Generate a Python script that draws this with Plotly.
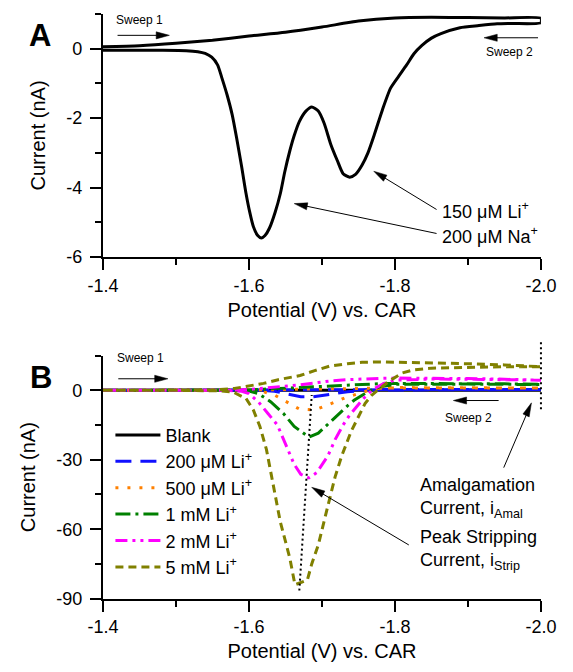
import plotly.graph_objects as go

W, H = 573, 672
FONT = "Liberation Sans, Arial, sans-serif"

# ---------------- Panel A data (one CV loop) ----------------
A_sweep1_x = [-1.4, -1.45, -1.5, -1.55, -1.6, -1.65, -1.7, -1.75, -1.8, -1.85, -1.9, -1.95, -2.0]
A_sweep1_y = [0.05, 0.08, 0.15, 0.24, 0.36, 0.47, 0.62, 0.79, 0.88, 0.90, 0.89, 0.88, 0.87]

A_sweep2_x = [-2.0, -1.96, -1.94, -1.915, -1.889, -1.863, -1.85, -1.837, -1.826, -1.816, -1.805,
              -1.794, -1.783, -1.772, -1.763, -1.755, -1.746, -1.738, -1.729, -1.721, -1.712,
              -1.703, -1.695, -1.686, -1.678, -1.669, -1.662, -1.656, -1.649, -1.643, -1.636,
              -1.628, -1.622, -1.617, -1.612, -1.606, -1.601, -1.596, -1.590, -1.583, -1.577,
              -1.570, -1.563, -1.557, -1.549, -1.540, -1.53, -1.514, -1.48, -1.44, -1.4]
A_sweep2_y = [0.74, 0.72, 0.71, 0.66, 0.60, 0.43, 0.30, 0.09, -0.15, -0.47, -0.80,
              -1.14, -1.75, -2.46, -3.00, -3.35, -3.62, -3.70, -3.60, -3.22, -2.75,
              -2.15, -1.80, -1.68, -1.80, -2.10, -2.50, -2.94, -3.55, -4.17, -4.70,
              -5.17, -5.38, -5.45, -5.38, -5.12, -4.70, -4.17, -3.40, -2.56, -1.90,
              -1.33, -0.85, -0.47, -0.25, -0.14, -0.09, -0.06, -0.05, -0.05, -0.05]

# ---------------- Panel B data ----------------
B_names = ["Blank", "200 μM Li<sup>+</sup>", "500 μM Li<sup>+</sup>", "1 mM Li<sup>+</sup>",
           "2 mM Li<sup>+</sup>", "5 mM Li<sup>+</sup>"]

# sweep 1 (forward, -1.4 -> -2.0) on a shared potential grid
B_sweep1_x = [-1.4, -1.5, -1.55, -1.58, -1.6, -1.62, -1.64, -1.67, -1.69, -1.71, -1.735,
              -1.755, -1.78, -1.8, -1.85, -1.9, -1.95, -2.0]
blank_s1 = [0, 0, 0, 0, 0, 0, 0, 0, 0, 0, 0, 0, 0, 0, 0, 0, 0, 0]
li200_s1 = [0, 0, 0, 0, 0, 0.1, 0.1, 0.2, 0.2, 0.3, 0.3, 0.3, 0.4, 0.4, 0.4, 0.4, 0.4, 0.4]
li500_s1 = [0, 0, 0, 0, 0.1, 0.2, 0.3, 0.5, 0.6, 0.7, 0.8, 0.9, 0.9, 1.0, 1.0, 1.0, 1.0, 1.0]
li1m_s1 = [0, 0, 0, 0, 0.2, 0.5, 0.8, 1.3, 1.7, 2.1, 2.5, 2.7, 2.9, 3.0, 3.0, 2.9, 2.8, 2.6]
li2m_s1 = [0, 0, 0, 0.1, 0.4, 0.9, 1.5, 2.4, 3.2, 4.0, 4.6, 5.0, 5.2, 5.3, 5.3, 5.1, 4.8, 4.5]
li5m_s1 = [0, 0, 0.2, 0.8, 1.8, 3.0, 4.6, 6.4, 8.5, 10.4, 11.5, 12.1, 12.3, 12.2, 11.9, 11.5, 11.0, 10.5]

# sweep 2 (reverse, -2.0 -> -1.4)
blank_s2_x = [-2.0, -1.8, -1.6, -1.4]
blank_s2_y = [0, 0, 0, 0]

li200_s2_x = [-2.0, -1.9, -1.8, -1.76, -1.735, -1.72, -1.706, -1.688, -1.671, -1.652, -1.635, -1.62, -1.5, -1.4]
li200_s2_y = [0.4, 0.4, 0.4, 0.1, -0.6, -1.3, -2.1, -2.8, -2.8, -1.4, -0.4, 0, 0, 0]

li500_s2_x = [-2.0, -1.9, -1.8, -1.77, -1.75, -1.731, -1.710, -1.690, -1.669, -1.650, -1.635, -1.62, -1.6, -1.5, -1.4]
li500_s2_y = [1.0, 1.1, 1.2, 0.6, -1.5, -3.3, -6.1, -8.5, -8.1, -4.7, -2.0, -0.6, 0, 0, 0]

li1m_s2_x = [-2.0, -1.9, -1.85, -1.8, -1.78, -1.77, -1.759, -1.744, -1.736, -1.721, -1.710, -1.695,
             -1.682, -1.662, -1.647, -1.630, -1.613, -1.60, -1.58, -1.5, -1.4]
li1m_s2_y = [2.5, 2.7, 2.8, 2.6, 1.6, 0.4, -1.4, -4.3, -6.4, -10.7, -14.2, -18.5,
             -20.2, -15.6, -9.9, -5.0, -1.4, -0.3, 0, 0, 0]

li2m_s2_x = [-2.0, -1.95, -1.9, -1.85, -1.8, -1.785, -1.77, -1.757, -1.749, -1.738, -1.729, -1.718,
             -1.708, -1.693, -1.682, -1.671, -1.662, -1.652, -1.639, -1.626, -1.613, -1.60, -1.59,
             -1.57, -1.5, -1.4]
li2m_s2_y = [4.4, 4.6, 4.8, 4.9, 4.4, 3.0, 0.5, -3.5, -6.4, -10.7, -14.9, -21.3,
             -28.4, -35.5, -37.8, -36.3, -32.0, -24.9, -15.0, -10.0, -5.0, -1.4, -0.4,
             0, 0, 0]

li5m_s2_x = [-2.0, -1.95, -1.9, -1.85, -1.825, -1.81, -1.792, -1.779, -1.768, -1.759, -1.751, -1.740,
             -1.727, -1.718, -1.706, -1.695, -1.686, -1.68, -1.663, -1.656, -1.643, -1.630, -1.624,
             -1.615, -1.606, -1.596, -1.578, -1.56, -1.5, -1.4]
li5m_s2_y = [10.2, 10.2, 10.0, 9.6, 8.8, 7.5, 4.0, 0.7, -2.1, -5.7, -10.7, -17.7,
             -28.4, -37.4, -52.6, -66.8, -75.0, -82.0, -84.0, -72.5, -56.9, -35.5, -25.6,
             -15.6, -8.5, -3.5, -0.7, -0.2, 0, 0]

B_sweep1_y = [blank_s1, li200_s1, li500_s1, li1m_s1, li2m_s1, li5m_s1]
B_sweep2_x = [blank_s2_x, li200_s2_x, li500_s2_x, li1m_s2_x, li2m_s2_x, li5m_s2_x]
B_sweep2_y = [blank_s2_y, li200_s2_y, li500_s2_y, li1m_s2_y, li2m_s2_y, li5m_s2_y]

B_colors = ["#000000", "#1010FF", "#FF8000", "#008000", "#FF00FF", "#808000"]
B_dashes = ["solid", "16px,9px", "3px,9px", "15px,5px,3px,5px", "12px,5px,3px,5px,3px,5px", "8px,5px"]

# peak guide line (through stripping peaks)
peak_line_x = [-1.669, -1.686]
peak_line_y = [-86.5, -2.0]

# axis ticks
x_ticks = [-1.4, -1.6, -1.8, -2.0]
A_yticks = [0, -2, -4, -6]
B_yticks = [0, -30, -60, -90]

# ---------------- layout geometry ----------------
X_DOM = [92.1 / W, 556.0 / W]
A_YDOM = [1 - 261.0 / H, 1 - 14.0 / H]
B_YDOM = [1 - 607.7 / H, 1 - 361.0 / H]
X_RANGE = [-1.4, -2.0]
A_YRANGE = [-6, 1]
B_YRANGE = [-90, 15]


def to_px(x, y, panel):
    ydom, yr = (A_YDOM, A_YRANGE) if panel == "A" else (B_YDOM, B_YRANGE)
    fx = X_DOM[0] + (x - X_RANGE[0]) / (X_RANGE[1] - X_RANGE[0]) * (X_DOM[1] - X_DOM[0])
    fy = ydom[0] + (y - yr[0]) / (yr[1] - yr[0]) * (ydom[1] - ydom[0])
    return fx * W, (1 - fy) * H


def px_to_paper(px, py):
    return px / W, 1 - py / H


fig = go.Figure()

# Panel A
fig.add_trace(go.Scatter(
    x=A_sweep1_x + A_sweep2_x, y=A_sweep1_y + A_sweep2_y, mode="lines",
    line=dict(color="black", width=3, shape="spline", smoothing=0.6),
    xaxis="x", yaxis="y", showlegend=False, hoverinfo="skip"))

# Panel B
for name, s1, s2x, s2y, col, dash in zip(B_names, B_sweep1_y, B_sweep2_x, B_sweep2_y, B_colors, B_dashes):
    fig.add_trace(go.Scatter(
        x=B_sweep1_x + s2x, y=s1 + s2y, mode="lines", name=name,
        line=dict(color=col, width=3, dash=dash),
        xaxis="x2", yaxis="y2"))

fig.add_trace(go.Scatter(
    x=peak_line_x, y=peak_line_y, mode="lines",
    line=dict(color="black", width=2, dash="2px,3px"),
    xaxis="x2", yaxis="y2", showlegend=False, hoverinfo="skip"))

shapes = []
annotations = []


def arrow(panel, tail, head, lw=1.0, hl=14, hw=3.6):
    tx, ty = to_px(tail[0], tail[1], panel)
    hx, hy = to_px(head[0], head[1], panel)
    dx, dy = hx - tx, hy - ty
    L = (dx * dx + dy * dy) ** 0.5
    ux, uy = dx / L, dy / L
    bx, by = hx - ux * hl, hy - uy * hl
    nx, ny = -uy, ux
    p0 = px_to_paper(tx, ty)
    p1 = px_to_paper(bx + ux * 1, by + uy * 1)
    shapes.append(dict(type="line", xref="paper", yref="paper", x0=p0[0], y0=p0[1],
                       x1=p1[0], y1=p1[1], line=dict(color="black", width=lw)))
    pts = [(hx, hy), (bx + nx * hw, by + ny * hw), (bx - nx * hw, by - ny * hw)]
    pp = [px_to_paper(a, b) for a, b in pts]
    path = "M{},{} L{},{} L{},{} Z".format(pp[0][0], pp[0][1], pp[1][0], pp[1][1], pp[2][0], pp[2][1])
    shapes.append(dict(type="path", xref="paper", yref="paper", path=path,
                       fillcolor="black", line=dict(color="black", width=0.5)))


def text(panel, x, y, s, size=18, xanchor="left"):
    annotations.append(dict(
        x=x, y=y, xref="x" if panel == "A" else "x2", yref="y" if panel == "A" else "y2",
        text=s, showarrow=False, xanchor=xanchor, yanchor="middle", align="left",
        font=dict(family=FONT, size=size, color="black")))


# Panel A annotations
text("A", -1.450, 0.82, "Sweep 1", size=12, xanchor="center")
arrow("A", (-1.420, 0.38), (-1.491, 0.38))
text("A", -1.957, -0.09, "Sweep 2", size=12, xanchor="center")
arrow("A", (-1.996, 0.31), (-1.922, 0.31))
text("A", -1.862, -4.66, "150 μM Li<sup>+</sup>")
text("A", -1.862, -5.37, "200 μM Na<sup>+</sup>")
arrow("A", (-1.857, -4.63), (-1.771, -3.53))
arrow("A", (-1.857, -5.32), (-1.662, -4.46))

# Panel B annotations
text("B", -1.452, 13.9, "Sweep 1", size=12, xanchor="center")
arrow("B", (-1.421, 5.0), (-1.489, 5.0))
text("B", -1.901, -12.1, "Sweep 2", size=12, xanchor="center")
arrow("B", (-1.942, -4.4), (-1.880, -4.4))
text("B", -1.831, -46.6, "Amalgamation<br>Current, i<sub>Amal</sub>")
text("B", -1.831, -69.0, "Peak Stripping<br>Current, i<sub>Strip</sub>")
arrow("B", (-1.949, -33.4), (-1.987, -5.4))
arrow("B", (-1.819, -66.8), (-1.686, -41.9))

# vertical dotted line at end of sweep (extends above axis)
vx0, vy0 = to_px(-2.0, 20.8, "B")
vx1, vy1 = to_px(-2.0, -9.0, "B")
p0 = px_to_paper(vx0, vy0)
p1 = px_to_paper(vx1, vy1)
shapes.append(dict(type="line", xref="paper", yref="paper", x0=p0[0], y0=p0[1], x1=p1[0], y1=p1[1],
                   line=dict(color="black", width=2, dash="2px,3px")))

# panel letters
annotations.append(dict(x=25 / W, y=1 - 36 / H, xref="paper", yref="paper", text="<b>A</b>",
                        showarrow=False, xanchor="center", yanchor="middle",
                        font=dict(family=FONT, size=31, color="black")))
annotations.append(dict(x=26 / W, y=1 - 383 / H, xref="paper", yref="paper", text="<b>B</b>",
                        showarrow=False, xanchor="center", yanchor="middle",
                        font=dict(family=FONT, size=31, color="black")))

axis_common = dict(
    showline=True, linecolor="black", linewidth=2, mirror=False,
    ticks="outside", ticklen=11, tickwidth=2, tickcolor="black",
    showgrid=False, zeroline=False,
    tickfont=dict(family=FONT, size=18, color="black"),
)

xaxis_common = dict(axis_common, range=X_RANGE, tickvals=x_ticks,
                    ticktext=["-1.4", "-1.6", "-1.8", "-2.0"], domain=X_DOM,
                    minor=dict(dtick=0.1, tick0=-1.4, ticklen=6, tickwidth=2, tickcolor="black", ticks="outside"),
                    title=dict(text="Potential (V) vs. CAR", font=dict(family=FONT, size=20, color="black"), standoff=8),
                    ticklabelstandoff=0)

ytitle = dict(text="Current (nA)", font=dict(family=FONT, size=20, color="black"), standoff=15)

fig.update_layout(
    width=W, height=H,
    margin=dict(l=0, r=0, t=0, b=0),
    paper_bgcolor="white", plot_bgcolor="white",
    font=dict(family=FONT, color="black"),
    xaxis=dict(xaxis_common, anchor="y"),
    yaxis=dict(axis_common, domain=A_YDOM, range=A_YRANGE, anchor="x",
               tickvals=A_yticks, ticktext=[str(v) for v in A_yticks],
               minor=dict(dtick=1, tick0=0, ticklen=6, tickwidth=2, tickcolor="black", ticks="outside"),
               title=ytitle, ticklabelstandoff=4),
    xaxis2=dict(xaxis_common, anchor="y2"),
    yaxis2=dict(axis_common, domain=B_YDOM, range=B_YRANGE, anchor="x2",
                tickvals=B_yticks, ticktext=[str(v) for v in B_yticks],
                minor=dict(dtick=15, tick0=0, ticklen=6, tickwidth=2, tickcolor="black", ticks="outside"),
                title=ytitle, ticklabelstandoff=4),
    legend=dict(x=100 / W, y=1 - 423 / H, xanchor="left", yanchor="top",
                bgcolor="rgba(0,0,0,0)", borderwidth=0,
                font=dict(family=FONT, size=18, color="black"),
                itemwidth=45, tracegroupgap=0),
    shapes=shapes,
    annotations=annotations,
)

fig.write_html("out.html")
